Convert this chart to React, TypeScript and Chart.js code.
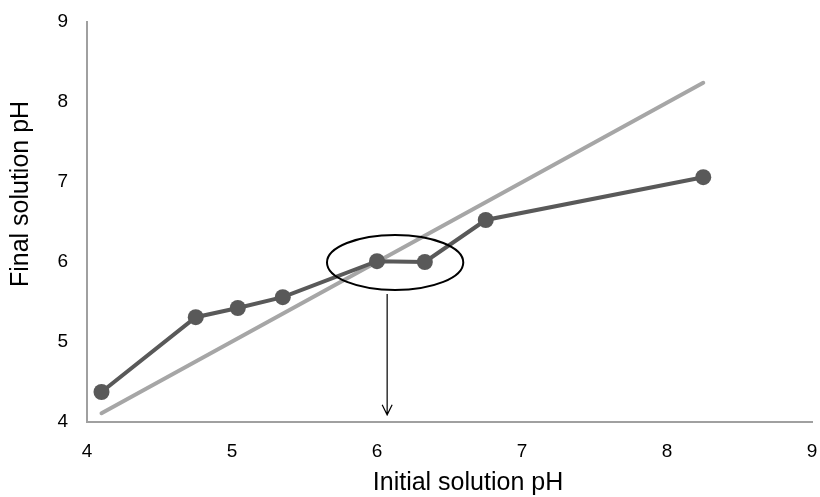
import React, { useEffect, useRef } from "react";
import { Chart, registerables } from "chart.js";

Chart.register(...registerables);

const initialPH = [4.1, 4.75, 5.04, 5.35, 6.0, 6.33, 6.75, 8.25];
const finalPH = [4.375, 5.31, 5.425, 5.56, 6.01, 6.0, 6.525, 7.06];
const refX = [4.1, 8.25];
const refY = [4.11, 8.24];
const tickValues = [4, 5, 6, 7, 8, 9];
const xTitle = "Initial solution pH";
const yTitle = "Final solution pH";
// ellipse: center x, center y, radius x, radius y (data units)
const ellipse = [6.125, 5.994, 0.47, 0.344];
// arrow: x, y start, y end (data units)
const arrow = [6.07, 5.6, 4.09];

const FONT = "'Liberation Sans', Arial, sans-serif";

const overlayPlugin = {
  id: "overlay",
  afterDatasetsDraw(chart: any) {
    const { ctx, scales } = chart;
    const xs = scales.x;
    const ys = scales.y;
    ctx.save();
    const cx = xs.getPixelForValue(ellipse[0]);
    const cy = ys.getPixelForValue(ellipse[1]);
    const rx = xs.getPixelForValue(ellipse[0] + ellipse[2]) - cx;
    const ry = cy - ys.getPixelForValue(ellipse[1] + ellipse[3]);
    ctx.beginPath();
    ctx.ellipse(cx, cy, rx, ry, 0, 0, Math.PI * 2);
    ctx.strokeStyle = "#000";
    ctx.lineWidth = 2;
    ctx.stroke();
    const ax = xs.getPixelForValue(arrow[0]);
    const ay1 = ys.getPixelForValue(arrow[1]);
    const ay2 = ys.getPixelForValue(arrow[2]);
    ctx.beginPath();
    ctx.moveTo(ax, ay1);
    ctx.lineTo(ax, ay2);
    ctx.moveTo(ax - 5, ay2 - 10);
    ctx.lineTo(ax, ay2);
    ctx.lineTo(ax + 5, ay2 - 10);
    ctx.lineWidth = 1.2;
    ctx.stroke();
    ctx.restore();
  },
  afterDraw(chart: any) {
    const { ctx } = chart;
    ctx.save();
    ctx.fillStyle = "#000";
    ctx.font = `25px ${FONT}`;
    ctx.textAlign = "center";
    ctx.textBaseline = "middle";
    ctx.fillText(xTitle, 468, 483);
    ctx.translate(21, 194);
    ctx.rotate(-Math.PI / 2);
    ctx.fillText(yTitle, 0, 0);
    ctx.restore();
  },
};

export default function App() {
  const ref = useRef<HTMLCanvasElement>(null);
  useEffect(() => {
    document.body.style.margin = "0";
    const chart = new Chart(ref.current!, {
      type: "scatter",
      data: {
        datasets: [
          {
            data: refX.map((x, i) => ({ x, y: refY[i] })),
            showLine: true,
            borderColor: "#a6a6a6",
            borderWidth: 4,
            borderCapStyle: "round",
            pointRadius: 0,
            order: 2,
          },
          {
            data: initialPH.map((x, i) => ({ x, y: finalPH[i] })),
            showLine: true,
            borderColor: "#595959",
            backgroundColor: "#595959",
            borderWidth: 4,
            pointRadius: 8,
            pointBorderWidth: 0,
            order: 1,
          },
        ],
      },
      options: {
        animation: false,
        responsive: false,
        maintainAspectRatio: false,
        layout: { padding: { top: 22, right: 5, left: 0, bottom: 0 } },
        plugins: { legend: { display: false }, tooltip: { enabled: false } },
        scales: {
          x: {
            type: "linear",
            min: 4,
            max: 9,
            afterBuildTicks: (s: any) => {
              s.ticks = tickValues.map((v) => ({ value: v }));
            },
            afterFit: (s: any) => {
              s.height = 75;
              s.paddingLeft = 0;
              s.paddingRight = 0;
            },
            grid: { display: false, drawTicks: false },
            border: { display: true, color: "#a0a0a0", width: 2 },
            ticks: { padding: 18, color: "#000", font: { family: FONT, size: 19 }, maxRotation: 0 },
          },
          y: {
            type: "linear",
            min: 4,
            max: 9,
            afterBuildTicks: (s: any) => {
              s.ticks = tickValues.map((v) => ({ value: v }));
            },
            afterFit: (s: any) => {
              s.width = 87;
              s.paddingTop = 0;
              s.paddingBottom = 0;
            },
            grid: { display: false, drawTicks: false },
            border: { display: true, color: "#a0a0a0", width: 2 },
            ticks: { padding: 19, color: "#000", font: { family: FONT, size: 19 } },
          },
        },
      },
      plugins: [overlayPlugin],
    });
    return () => chart.destroy();
  }, []);
  return (
    <div style={{ position: "absolute", left: 0, top: 0, width: 820, height: 497 }}>
      <canvas ref={ref} width={820} height={497} style={{ display: "block" }} />
    </div>
  );
}
